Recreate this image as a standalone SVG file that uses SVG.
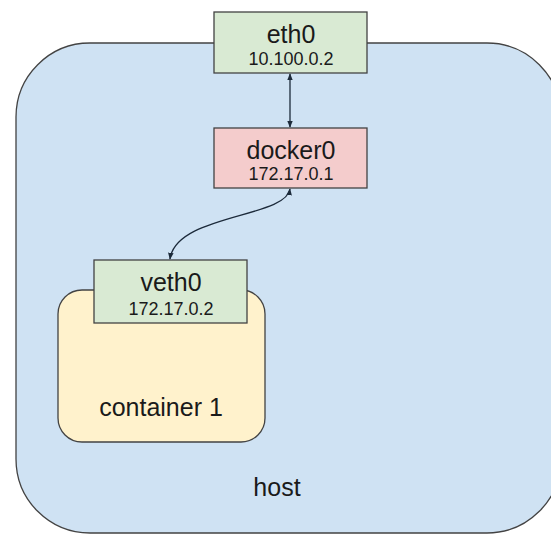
<svg xmlns="http://www.w3.org/2000/svg" width="551" height="535" viewBox="0 0 551 535">
<defs>
<style>
.box{stroke:#434343;stroke-width:1.3}
.t{font-family:"Liberation Sans",Arial,sans-serif;fill:#1a1a1a;text-anchor:middle}
.big{font-size:25px}
.small{font-size:18px}
.conn{fill:none;stroke:#1c2a3a;stroke-width:1.3}
</style>
<marker id="ah" viewBox="0 0 10 10" refX="9" refY="5" markerWidth="7" markerHeight="7" orient="auto-start-reverse" markerUnits="userSpaceOnUse">
<path d="M0,1 L10,5 L0,9 Z" fill="#1c2a3a"/>
</marker>
</defs>
<rect width="551" height="535" fill="#ffffff"/>
<g id="host">
<rect class="box" x="16" y="43" width="545" height="490" rx="74" ry="74" fill="#cfe2f3"/>
<text class="t big" x="277" y="496">host</text>
</g>
<g id="container1">
<rect class="box" x="58" y="290" width="207" height="152" rx="24" ry="24" fill="#fff2cc"/>
<text class="t big" x="161" y="416">container 1</text>
</g>
<g id="eth0">
<rect class="box" x="214" y="12" width="153" height="61" fill="#d9ead3"/>
<text class="t big" x="291" y="43">eth0</text>
<text class="t small" x="291" y="65">10.100.0.2</text>
</g>
<g id="docker0">
<rect class="box" x="214" y="128" width="153" height="60" fill="#f4cccc"/>
<text class="t big" x="291" y="159">docker0</text>
<text class="t small" x="291" y="180">172.17.0.1</text>
</g>
<g id="veth0">
<rect class="box" x="94" y="260" width="153" height="63" fill="#d9ead3"/>
<text class="t big" x="171" y="291">veth0</text>
<text class="t small" x="171" y="315">172.17.0.2</text>
</g>
<g id="connectors">
<path class="conn" d="M290,74 L290,127" marker-start="url(#ah)" marker-end="url(#ah)"/>
<path class="conn" d="M290,189 C286,218 176,214 170,259" marker-start="url(#ah)" marker-end="url(#ah)"/>
</g>
</svg>
